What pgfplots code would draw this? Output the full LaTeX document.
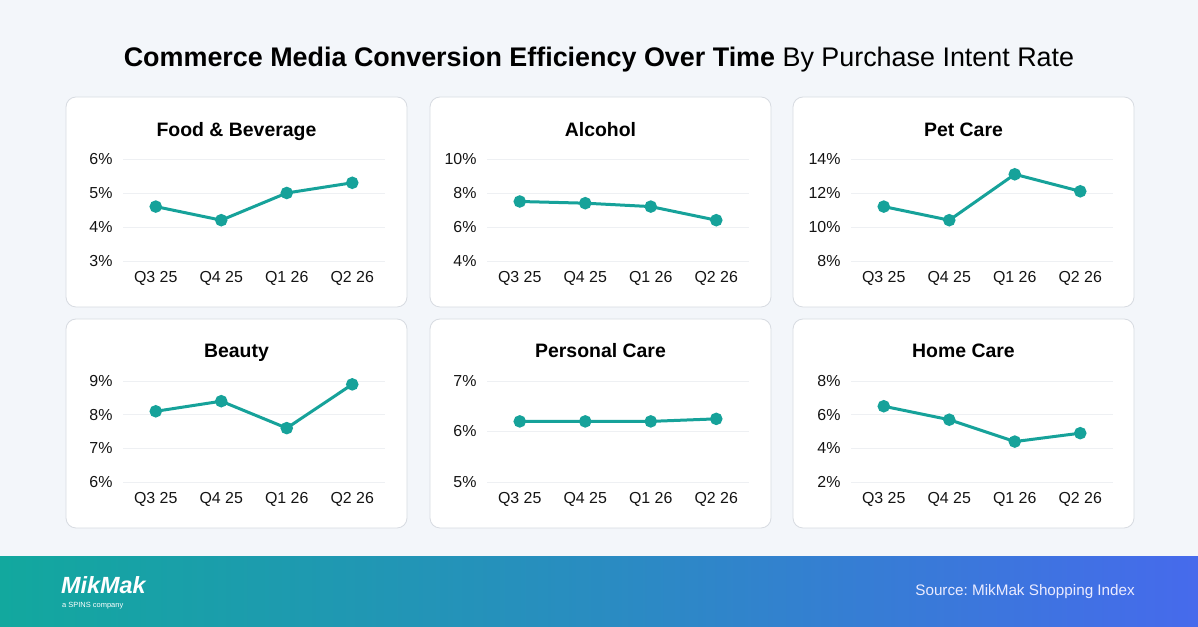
\documentclass[border=0pt]{standalone}
\usepackage{pgfplots}
\pgfplotsset{compat=1.18}
\usepackage{fontspec}
\setmainfont{Liberation Sans}
\frenchspacing
\definecolor{bgcol}{RGB}{243,246,250}
\definecolor{teal1}{RGB}{22,162,154}
\definecolor{gridcol}{RGB}{238,240,243}
\definecolor{boxcol}{RGB}{215,219,225}
\definecolor{footL}{RGB}{18,168,158}
\definecolor{footR}{RGB}{70,106,236}
\pgfplotsset{panel/.style={scale only axis, width=262bp, xmin=-0.5, xmax=3.5,
  xtick={0,1,2,3}, xticklabels={Q3 25,Q4 25,Q1 26,Q2 26},
  axis line style={draw=none}, major tick length=0pt,
  ymajorgrids, grid style={draw=gridcol, line width=0.8bp},
  ticklabel style={font=\fontsize{16}{19}\selectfont, text=black!92},
  yticklabel style={xshift=-7bp}, xticklabel style={yshift=-7bp},
  clip=false, anchor=south west},
  ser/.style={color=teal1, line width=3bp, mark=*, mark size=4.7bp, mark options={fill=teal1, draw=teal1}}}
\begin{document}
\begin{tikzpicture}[x=1bp,y=1bp]
\fill[bgcol] (0,0) rectangle (1198,627);
% title
\node[anchor=center] at (599,567) {\fontsize{27}{31}\selectfont\textbf{Commerce Media Conversion Efficiency Over Time} By Purchase Intent Rate};
% panels
\foreach \x in {66,430,793}{
  \draw[rounded corners=10bp, fill=white, draw=boxcol, line width=0.8bp] (\x,320) rectangle ++(341,210);
  \draw[rounded corners=10bp, fill=white, draw=boxcol, line width=0.8bp] (\x,99) rectangle ++(341,209);
}
\tikzset{ptitle/.style={anchor=base, inner sep=0, font=\fontsize{19.5}{23}\selectfont\bfseries}}
\node[ptitle] at (236.5,490) {Food \& Beverage};
\node[ptitle] at (600.5,490) {Alcohol};
\node[ptitle] at (963.5,490) {Pet Care};
\node[ptitle] at (236.5,269) {Beauty};
\node[ptitle] at (600.5,269) {Personal Care};
\node[ptitle] at (963.5,269) {Home Care};
% row 1
\begin{axis}[panel, at={(123bp,366bp)}, height=102bp, ymin=3, ymax=6, ytick={3,4,5,6}, yticklabels={3\%,4\%,5\%,6\%}]
\addplot[ser] coordinates {(0,4.6) (1,4.2) (2,5.0) (3,5.3)};
\end{axis}
\begin{axis}[panel, at={(487bp,366bp)}, height=102bp, ymin=4, ymax=10, ytick={4,6,8,10}, yticklabels={4\%,6\%,8\%,10\%}]
\addplot[ser] coordinates {(0,7.5) (1,7.4) (2,7.2) (3,6.4)};
\end{axis}
\begin{axis}[panel, at={(851bp,366bp)}, height=102bp, ymin=8, ymax=14, ytick={8,10,12,14}, yticklabels={8\%,10\%,12\%,14\%}]
\addplot[ser] coordinates {(0,11.2) (1,10.4) (2,13.1) (3,12.1)};
\end{axis}
% row 2
\begin{axis}[panel, at={(123bp,145bp)}, height=101bp, ymin=6, ymax=9, ytick={6,7,8,9}, yticklabels={6\%,7\%,8\%,9\%}]
\addplot[ser] coordinates {(0,8.1) (1,8.4) (2,7.6) (3,8.9)};
\end{axis}
\begin{axis}[panel, at={(487bp,145bp)}, height=101bp, ymin=5, ymax=7, ytick={5,6,7}, yticklabels={5\%,6\%,7\%}]
\addplot[ser] coordinates {(0,6.2) (1,6.2) (2,6.2) (3,6.25)};
\end{axis}
\begin{axis}[panel, at={(851bp,145bp)}, height=101bp, ymin=2, ymax=8, ytick={2,4,6,8}, yticklabels={2\%,4\%,6\%,8\%}]
\addplot[ser] coordinates {(0,6.5) (1,5.7) (2,4.4) (3,4.9)};
\end{axis}
% footer
\shade[left color=footL, right color=footR, middle color=footL!55!footR] (0,0) rectangle (1198,70);
\node[anchor=west, text=white, inner sep=0] at (61,42) {\fontsize{23.5}{25}\selectfont\bfseries\itshape MikMak};
\node[anchor=west, text=white, inner sep=0] at (62,21) {\fontsize{7.5}{9}\selectfont a SPINS company};
\node[anchor=east, text=white!92!blue, inner sep=0] at (1135,35) {\fontsize{15.3}{18}\selectfont Source: MikMak Shopping Index};
\end{tikzpicture}
\end{document}
